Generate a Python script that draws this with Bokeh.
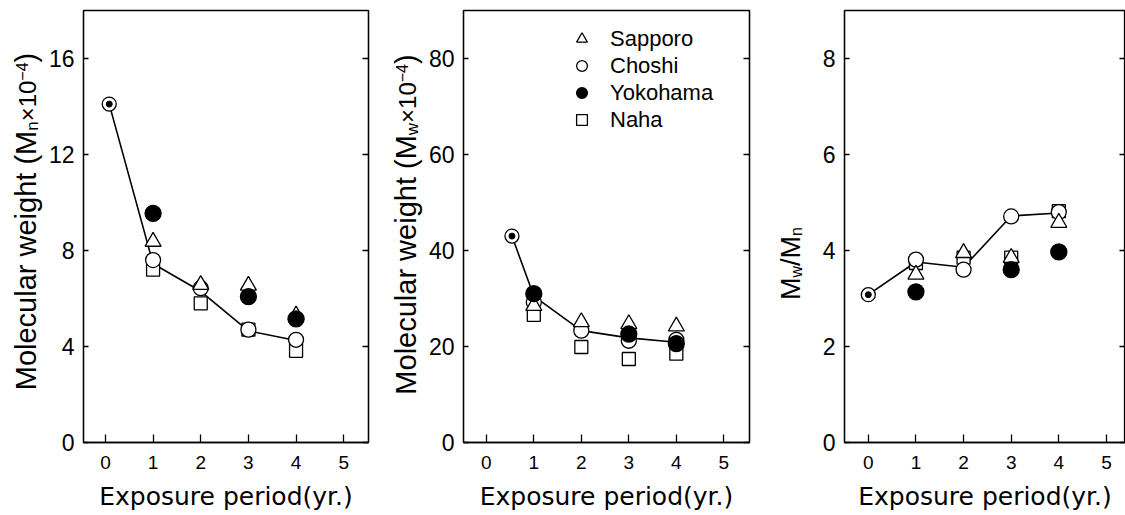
import math
from bokeh.plotting import figure
from bokeh.layouts import row
from bokeh.models import Range1d, LinearAxis, FixedTicker, Label, Legend, LegendItem, CustomJSTickFormatter
from bokeh.embed import file_html
from bokeh.resources import INLINE

nan = float("nan")
years = [1, 2, 3, 4]
x_ticks = [0, 1, 2, 3, 4, 5]
stations = ["Sapporo", "Choshi", "Yokohama", "Naha"]

# Panel 1: number-average molecular weight (Mn x 10^-4)
mn_ticks = [0, 4, 8, 12, 16]
mn_initial_x = [0.08]
mn_initial = [14.1]
mn_trend_x = [0.08, 1, 2, 3, 4]
mn_trend = [14.1, 7.45, 6.3, 4.65, 4.25]
mn_sapporo = [8.37, 6.57, 6.54, 5.3]
mn_choshi = [7.6, 6.43, 4.7, 4.28]
mn_yokohama = [9.55, nan, 6.08, 5.15]
mn_naha = [7.2, 5.8, 4.7, 3.82]

# Panel 2: weight-average molecular weight (Mw x 10^-4)
mw_ticks = [0, 20, 40, 60, 80]
mw_initial_x = [0.54]
mw_initial = [43.0]
mw_trend_x = [0.54, 1, 2, 3, 4]
mw_trend = [43.0, 30.5, 23.3, 21.8, 20.9]
mw_sapporo = [28.5, 25.1, 24.7, 24.2]
mw_choshi = [29.2, 23.3, 21.2, 21.4]
mw_yokohama = [31.0, nan, 22.6, 20.6]
mw_naha = [26.6, 19.9, 17.4, 18.5]

# Panel 3: polydispersity (Mw/Mn)
pd_ticks = [0, 2, 4, 6, 8]
pd_initial_x = [0.0]
pd_initial = [3.08]
pd_trend_x = [0.0, 1, 2, 3, 4]
pd_trend = [3.08, 3.76, 3.65, 4.72, 4.78]
pd_sapporo = [3.5, 3.95, 3.85, 4.58]
pd_choshi = [3.81, 3.6, 4.71, 4.8]
pd_yokohama = [3.14, nan, 3.6, 3.97]
pd_naha = [3.74, 3.85, 3.85, 4.82]

SANS = "Liberation Sans"
H = 515
FRAME_TOP = 10
FRAME_BOTTOM = 442

CW = {"M": .833, "o": .556, "l": .222, "e": .556, "c": .5, "u": .556, "a": .556, "r": .333,
      " ": .278, "w": .722, "i": .222, "g": .556, "h": .556, "t": .278, "(": .333, ")": .333,
      "n": .556, "×": .584, "1": .556, "0": .556, "−": .584, "4": .556, "/": .278}


def text_width(t, s):
    return sum(CW.get(ch, .556) for ch in t) * s


def label_strip(width, pieces, base_x, center_y):
    """A narrow plot whose frame has the same vertical extent as the panels;
    data units equal canvas pixels (y measured upward from the canvas bottom)."""
    p = figure(frame_width=width, frame_height=FRAME_BOTTOM - FRAME_TOP,
               output_backend="svg", toolbar_location=None,
               x_axis_location=None, y_axis_location=None,
               x_range=Range1d(0, width), y_range=Range1d(H - FRAME_BOTTOM, H - FRAME_TOP),
               min_border_left=0, min_border_right=0,
               min_border_top=FRAME_TOP, min_border_bottom=H - FRAME_BOTTOM,
               outline_line_color=None, background_fill_color="white",
               border_fill_color="white")
    p.title.visible = False
    p.xgrid.visible = False
    p.ygrid.visible = False
    total = sum(text_width(t, s) for t, s, d in pieces)
    cy = center_y + total / 2
    for t, s, d in pieces:
        # text is centred on its em box; move the anchor so the baseline lands on base_x + d
        p.add_layout(Label(x=base_x + d - 0.36 * s, y=H - cy, text=t, angle=math.pi / 2,
                           text_align="left", text_baseline="middle",
                           text_font=SANS, text_font_size=f"{s}px", text_color="black"))
        cy -= text_width(t, s)
    return p


def make_panel(width, left, right, xr, yr, yticks, init_x, init_y, trend_x, trend_y,
               sap, cho, yok, nah):
    p = figure(width=width, height=H, output_backend="svg", toolbar_location=None,
               x_range=Range1d(*xr), y_range=Range1d(*yr),
               min_border_left=left, min_border_right=right, min_border_top=FRAME_TOP,
               min_border_bottom=H - FRAME_BOTTOM,
               background_fill_color="white", border_fill_color="white",
               outline_line_color="black", outline_line_width=1.3)
    p.xgrid.visible = False
    p.ygrid.visible = False
    xa = p.xaxis[0]
    xa.ticker = FixedTicker(ticks=x_ticks)
    xa.major_tick_in = 8
    xa.major_tick_out = 0
    xa.minor_tick_line_color = None
    xa.axis_line_width = 1.3
    xa.major_tick_line_width = 1.3
    xa.major_label_text_font = SANS
    xa.major_label_text_font_size = "19px"
    xa.major_label_text_color = "black"
    xa.major_label_standoff = 13
    xa.axis_label = "Exposure period(yr.)"
    xa.axis_label_text_font = "DejaVu Sans"
    xa.axis_label_text_font_size = "25px"
    xa.axis_label_text_font_style = "normal"
    xa.axis_label_text_color = "black"
    xa.axis_label_standoff = 10
    ya = p.yaxis[0]
    ya.ticker = FixedTicker(ticks=yticks)
    ya.major_tick_in = 5
    ya.major_tick_out = 0
    ya.minor_tick_line_color = None
    ya.axis_line_width = 1.3
    ya.major_tick_line_width = 1.3
    ya.major_label_text_font = SANS
    ya.major_label_text_font_size = "23px"
    ya.major_label_text_color = "black"
    ya.major_label_standoff = 9
    ra = LinearAxis(ticker=FixedTicker(ticks=yticks),
                    formatter=CustomJSTickFormatter(code="return ''"))
    ra.major_tick_in = 6
    ra.major_tick_out = 0
    ra.minor_tick_line_color = None
    ra.axis_line_width = 1.3
    ra.major_tick_line_width = 1.3
    ra.major_label_standoff = 0
    ra.major_label_text_font_size = "1px"
    p.add_layout(ra, "right")

    p.line(trend_x, trend_y, line_color="black", line_width=1.6)
    r_nah = p.scatter(years, nah, marker="square", size=13, fill_color="white",
                      line_color="black", line_width=1.3)
    r_cho = p.scatter(years, cho, marker="circle", size=15, fill_color="white",
                      line_color="black", line_width=1.3)
    r_sap = p.scatter(years, sap, marker="triangle", size=16, fill_color="white",
                      line_color="black", line_width=1.3)
    r_yok = p.scatter(years, yok, marker="circle", size=16, fill_color="black",
                      line_color="black", line_width=1.3)
    p.scatter(init_x, init_y, marker="circle", size=14, fill_color="white",
              line_color="black", line_width=1.3)
    p.scatter(init_x, init_y, marker="circle", size=6, fill_color="black",
              line_color="black", line_width=1)
    return p, (r_sap, r_cho, r_yok, r_nah)


# strip widths 45 each; panels start right after their strip
l1 = label_strip(45, [("Molecular weight (M", 29, 0), ("n", 17, 2), ("×10", 24, 0),
                      ("−4", 16, -9), (")", 29, 0)], 36, 221)
p1, _ = make_panel(335, 38, 12, (-0.46, 5.52), (0, 18), mn_ticks, mn_initial_x, mn_initial,
                   mn_trend_x, mn_trend, mn_sapporo, mn_choshi, mn_yokohama, mn_naha)
l2 = label_strip(45, [("Molecular weight (M", 29, 0), ("w", 17, 2), ("×10", 24, 0),
                      ("−4", 16, -9), (")", 29, 0)], 36, 224)
p2, rs = make_panel(335, 38, 11, (-0.48, 5.54), (0, 90), mw_ticks, mw_initial_x, mw_initial,
                    mw_trend_x, mw_trend, mw_sapporo, mw_choshi, mw_yokohama, mw_naha)
l3 = label_strip(45, [("M", 27, 0), ("w", 16, 2), ("/", 27, 0), ("M", 27, 0), ("n", 16, 2)],
                 40, 263)
p3, _ = make_panel(320, 39, 0, (-0.5, 5.4), (0, 9), pd_ticks, pd_initial_x, pd_initial,
                   pd_trend_x, pd_trend, pd_sapporo, pd_choshi, pd_yokohama, pd_naha)

legend = Legend(items=[LegendItem(label=name, renderers=[r]) for name, r in zip(stations, rs)],
                location=(105, 309), orientation="vertical",
                glyph_width=27, glyph_height=27, spacing=0, label_standoff=15,
                padding=0, margin=0, border_line_color=None, background_fill_alpha=0,
                label_text_font=SANS, label_text_font_size="22px", label_height=27,
                label_text_color="black")
p2.add_layout(legend)

layout = row(l1, p1, l2, p2, l3, p3)
open("out.html", "w").write(file_html(layout, INLINE))
